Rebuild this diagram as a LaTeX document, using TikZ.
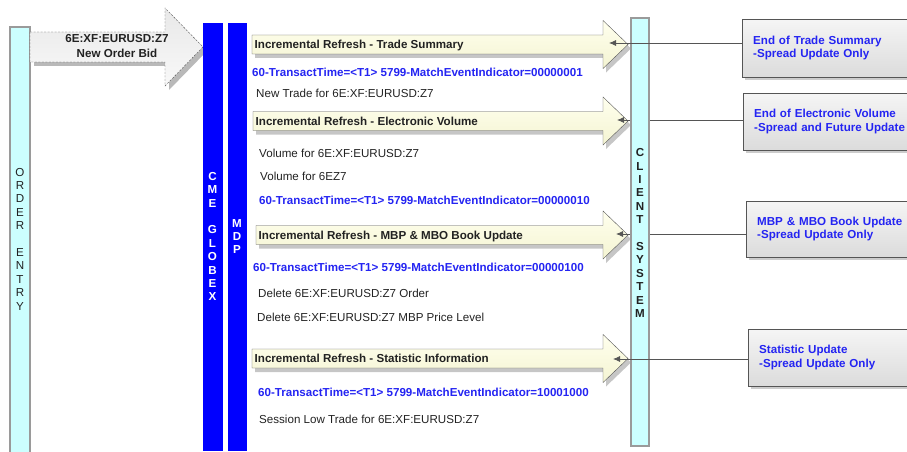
\documentclass[tikz,border=0pt]{standalone}
\usepackage{fontspec}
\setmainfont{Liberation Sans}
\usetikzlibrary{arrows.meta,shadows}
\definecolor{barcyan}{HTML}{CCFFFF}
\definecolor{barline}{HTML}{9A9A9A}
\definecolor{cmeblue}{HTML}{0000FF}
\definecolor{msgblue}{HTML}{2424F2}
\definecolor{cream}{HTML}{FFFFEE}
\definecolor{creamdark}{HTML}{F4F4D2}
\definecolor{edgegray}{HTML}{555555}
\definecolor{txtgray}{HTML}{222222}
\newcommand{\txtfont}{\fontsize{11.6}{13.4}\selectfont}

\begin{document}
\begin{tikzpicture}[x=1pt, y=-1pt, every node/.style={font=\txtfont, text=txtgray},
  bar/.style={draw=barline, line width=1.5pt, fill=barcyan},
  bluebar/.style={draw=cmeblue, fill=cmeblue},
  vlabel/.style={align=center, inner sep=0pt},
  bidarrow/.style={draw=edgegray, dash pattern=on 2pt off 1.5pt, top color=gray!18, bottom color=gray!5,
    drop shadow={shadow xshift=4pt, shadow yshift=-4pt, fill=gray!55, opacity=1}},
  hdrarrow/.style={draw=edgegray, top color=cream, bottom color=creamdark,
    drop shadow={shadow xshift=3pt, shadow yshift=-4pt, fill=gray!45, opacity=1}},
  hdr/.style={anchor=base west, inner sep=0pt, font=\txtfont\bfseries},
  msg/.style={anchor=base west, inner sep=0pt, text=msgblue, font=\txtfont\bfseries},
  note/.style={anchor=base west, inner sep=0pt},
  callout/.style={anchor=north west, draw=edgegray, top color=gray!8, bottom color=gray!28,
    drop shadow={shadow xshift=3pt, shadow yshift=-3pt, fill=gray!40, opacity=1},
    align=left, text width=170pt, inner xsep=11pt, text=msgblue,
    font=\fontsize{11.6}{13.5}\selectfont\bfseries},
  conn/.style={draw=edgegray, line width=0.8pt, -{Latex[length=7pt,width=6pt]}}]
\useasboundingbox (0,0) rectangle (907,452);

% order entry side
\draw[bar] (10,27) rectangle (30,470);
\node[vlabel] (oe) at (20,239) {O\\R\\D\\E\\R\\~\\E\\N\\T\\R\\Y};
\draw[bidarrow] (30,32) -- (165,32) -- (165,8) -- (203,47) -- (165,86) -- (165,62) -- (30,62) -- cycle;
\node[align=center, inner sep=0pt, font=\fontsize{11.6}{15}\selectfont\bfseries] (bid) at (117,46) {6E:XF:EURUSD:Z7\\New Order Bid};

% globex and mdp
\draw[bluebar] (203,23) rectangle (222,450);
\draw[bluebar] (228,23) rectangle (246,450);
\node[vlabel, text=white, font=\txtfont\bfseries] (cme) at (212.5,236.5) {C\\M\\E\\~\\G\\L\\O\\B\\E\\X};
\node[vlabel, text=white, font=\txtfont\bfseries] (mdp) at (237,236.5) {M\\D\\P};

% incremental refresh messages
\foreach \i/\lx/\cy/\txt in {1/252/44.5/Trade Summary, 2/253/121/Electronic Volume,
    3/256/235/MBP \& MBO Book Update, 4/252/358.5/Statistic Information}
{
  \draw[hdrarrow] (\lx,\cy-9.5) -- (603,\cy-9.5) -- (603,\cy-24) -- (628,\cy) -- (603,\cy+24) -- (603,\cy+9.5) -- (\lx,\cy+9.5) -- cycle;
  \node[hdr] (hdr\i) at (\lx+2.5,\cy+4) {Incremental Refresh - \txt};
}

\node[msg] (ev1) at (252,77) {60-TransactTime=<T1> 5799-MatchEventIndicator=00000001};
\node[note] (trade) at (256,97) {New Trade for 6E:XF:EURUSD:Z7};
\node[note] (vol1) at (259,157) {Volume for 6E:XF:EURUSD:Z7};
\node[note] (vol2) at (260,180) {Volume for 6EZ7};
\node[msg] (ev2) at (259,204) {60-TransactTime=<T1> 5799-MatchEventIndicator=00000010};
\node[msg] (ev3) at (253,271) {60-TransactTime=<T1> 5799-MatchEventIndicator=00000100};
\node[note] (del1) at (258,297) {Delete 6E:XF:EURUSD:Z7 Order};
\node[note] (del2) at (257,321) {Delete 6E:XF:EURUSD:Z7 MBP Price Level};
\node[msg] (ev4) at (258,396) {60-TransactTime=<T1> 5799-MatchEventIndicator=10001000};
\node[note] (low) at (259,423) {Session Low Trade for 6E:XF:EURUSD:Z7};

% client side
\node[callout, minimum height=58pt] (co1) at (742,19) {End of Trade Summary\\-Spread Update Only};
\node[callout, minimum height=57pt] (co2) at (743,93) {End of Electronic Volume\\-Spread and Future Update};
\node[callout, minimum height=56pt] (co3) at (746,201) {MBP \& MBO Book Update\\-Spread Update Only};
\node[callout, minimum height=57pt] (co4) at (748,329) {Statistic Update\\-Spread Update Only};
\coordinate (tip1) at (609,43);
\coordinate (tip2) at (617,120);
\coordinate (tip3) at (616,234);
\coordinate (tip4) at (613,359);
\draw[conn] (co2.west |- tip2) -- (tip2);
\draw[conn] (co3.west |- tip3) -- (tip3);
\draw[bar] (631,18) rectangle (649,446);
\draw[conn] (co1.west |- tip1) -- (tip1);
\draw[conn] (co4.west |- tip4) -- (tip4);
\node[vlabel, font=\txtfont\bfseries] (client) at (640,233) {C\\L\\I\\E\\N\\T\\~\\S\\Y\\S\\T\\E\\M};
\end{tikzpicture}
\end{document}
